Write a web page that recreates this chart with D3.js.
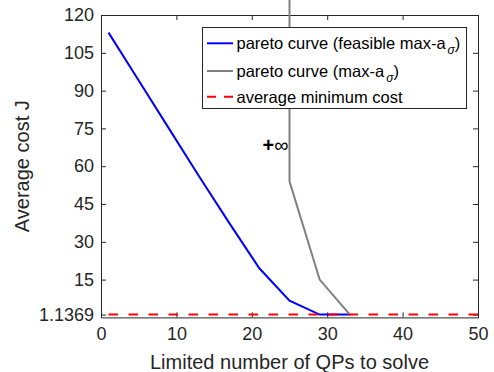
<!DOCTYPE html>
<html>
<head>
<meta charset="utf-8">
<script src="https://cdn.jsdelivr.net/npm/d3@7"></script>
<style>
  html, body { margin: 0; padding: 0; background: #fff; }
  svg { display: block; font-family: "Liberation Sans", Arial, Helvetica, sans-serif; }
</style>
</head>
<body>
<svg id="chart" width="494" height="372"></svg>
<script>
// ---- data ----
const feasibleX = [1, 5, 9, 13, 17, 21, 25, 29, 33];
const feasibleY = [113, 94, 75, 56, 37.5, 19.5, 6.6, 1.1369, 1.1369];
// first point stands for +infinity (drawn off the top of the figure)
const maxAX = [25, 25, 29, 33];
const maxAY = [200, 54, 15, 1.1369];
const minCostX = [1, 50];
const minCostY = [1.1369, 1.1369];
const xTicks = [0, 10, 20, 30, 40, 50];
const yTicks = [1.1369, 15, 30, 45, 60, 75, 90, 105, 120];
const yTickLabels = ["1.1369", "15", "30", "45", "60", "75", "90", "105", "120"];
const seriesNames = ["pareto curve (feasible max-a", "pareto curve (max-a", "average minimum cost"];
const seriesColors = ["#0000ff", "#808080", "#ff0000"];

// ---- layout ----
const svg = d3.select("#chart");
const L = 101, R = 478, T = 15, B = 317.4;
const x = d3.scaleLinear().domain([0, 50]).range([L, R]);
const y = d3.scaleLinear().domain([0, 120]).range([B, T]);
const axisColor = "#262626";
const tickFont = 18;

svg.append("rect").attr("width", 494).attr("height", 372).attr("fill", "#fff");

// axes
const gx = svg.append("g").attr("transform", `translate(0,${B})`)
  .call(d3.axisBottom(x).tickValues(xTicks).tickSizeInner(-5).tickSizeOuter(0).tickPadding(10).tickFormat(d3.format("d")));
const gxt = svg.append("g").attr("transform", `translate(0,${T})`)
  .call(d3.axisTop(x).tickValues(xTicks).tickSizeInner(-5).tickSizeOuter(0).tickFormat(""));
const gy = svg.append("g").attr("transform", `translate(${L},0)`)
  .call(d3.axisLeft(y).tickValues(yTicks).tickSizeInner(-5).tickSizeOuter(0).tickPadding(7)
    .tickFormat((d, i) => yTickLabels[i]));
const gyr = svg.append("g").attr("transform", `translate(${R},0)`)
  .call(d3.axisRight(y).tickValues(yTicks).tickSizeInner(-5).tickSizeOuter(0).tickFormat(""));
[gx, gxt, gy, gyr].forEach(g => {
  g.select(".domain").attr("stroke", axisColor).attr("stroke-width", 1);
  g.selectAll(".tick line").attr("stroke", axisColor).attr("stroke-width", 1);
  g.selectAll(".tick text").attr("fill", axisColor).attr("font-size", tickFont)
    .attr("font-family", "Liberation Sans, Arial, sans-serif");
});

// lines
const line = d3.line().x(d => x(d[0])).y(d => y(d[1]));
const blueData = feasibleX.map((v, i) => [v, feasibleY[i]]);
const grayData = maxAX.map((v, i) => [v, maxAY[i]]);
const redData = minCostX.map((v, i) => [v, minCostY[i]]);

svg.append("path").datum(blueData).attr("d", line)
  .attr("fill", "none").attr("stroke", seriesColors[0]).attr("stroke-width", 2);
svg.append("path").datum(grayData).attr("d", line)
  .attr("fill", "none").attr("stroke", seriesColors[1]).attr("stroke-width", 2);
svg.append("path").datum(redData).attr("d", line)
  .attr("fill", "none").attr("stroke", seriesColors[2]).attr("stroke-width", 2)
  .attr("stroke-dasharray", "9.5,10.5");

// +inf annotation
const inf = svg.append("text").attr("x", x(25) - 1).attr("y", y(68) + 6)
  .attr("text-anchor", "end").attr("font-size", 20).attr("fill", "#000");
inf.append("tspan").attr("font-weight", "bold").text("+");
inf.append("tspan").text("∞");

// axis labels
svg.append("text").attr("x", (L + R) / 2).attr("y", 369)
  .attr("text-anchor", "middle").attr("font-size", 20).attr("fill", axisColor)
  .text("Limited number of QPs to solve");
svg.append("text").attr("transform", `translate(29,${(T + B) / 2}) rotate(-90)`)
  .attr("text-anchor", "middle").attr("font-size", 20).attr("fill", axisColor)
  .text("Average cost J");

// legend
const lg = svg.append("g");
lg.append("rect").attr("x", 202.5).attr("y", 27.5).attr("width", 264).attr("height", 81)
  .attr("fill", "#fff").attr("stroke", axisColor).attr("stroke-width", 1);
const rowY = [43.3, 71, 96.7];
seriesNames.forEach((name, i) => {
  const ly = rowY[i];
  const ln = lg.append("line").attr("x1", 207).attr("x2", 233).attr("y1", ly).attr("y2", ly)
    .attr("stroke", seriesColors[i]).attr("stroke-width", 2);
  if (i === 2) ln.attr("stroke-dasharray", "9,8");
  const t = lg.append("text").attr("x", 236.5).attr("y", ly + 6)
    .attr("font-size", 16.5).attr("fill", "#000");
  t.append("tspan").text(name);
  if (i < 2) {
    t.append("tspan").attr("dy", 5).attr("dx", 2).attr("font-size", 12).attr("font-style", "italic").text("σ");
    t.append("tspan").attr("dy", -5).text(")");
  }
});
</script>
</body>
</html>
